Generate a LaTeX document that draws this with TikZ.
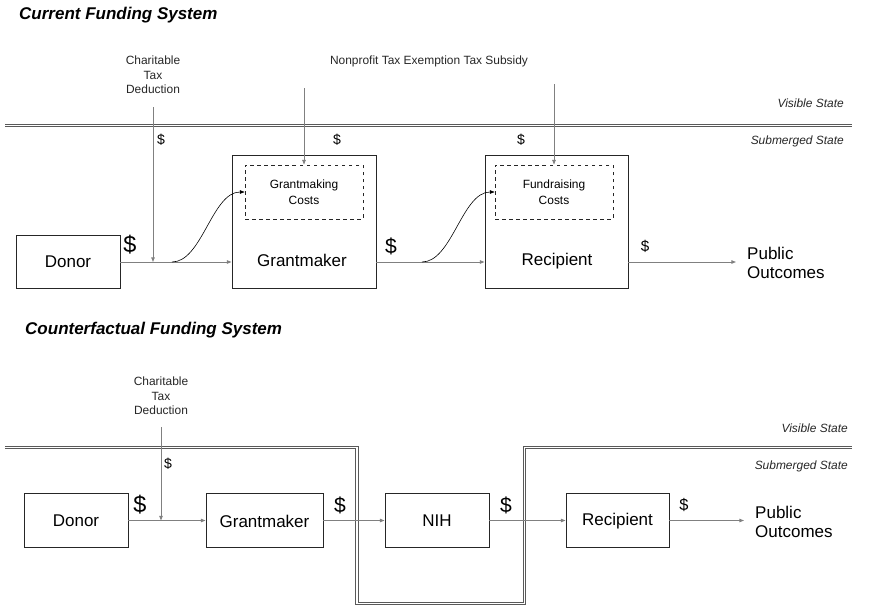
\documentclass[tikz,border=0pt]{standalone}
\usepackage{fontspec}
\setmainfont{Liberation Sans}
\usetikzlibrary{arrows.meta}

\begin{document}
\begin{tikzpicture}[x=0.03cm,y=-0.03cm,
    actorbox/.style ={draw=black!85, line width=0.8pt, inner sep=0pt},
    costbox/.style ={draw=black!85, dashed, line width=0.7pt, inner sep=0pt, minimum width=3.54cm, minimum height=1.62cm,
      align=center, font=\fontsize{10.2}{13.7}\selectfont},
    boxtext/.style ={font=\fontsize{14.5}{16}\selectfont},
    smalltext/.style ={font=\fontsize{10.2}{12.5}\selectfont, align=center, text=black!85},
    statetext/.style ={font=\fontsize{10.2}{12}\selectfont\itshape, anchor=east, inner sep=0pt, text=black!85},
    titletext/.style ={font=\fontsize{14.5}{16}\selectfont\bfseries\itshape, anchor=west, inner sep=0pt},
    outcometext/.style ={font=\fontsize{14.5}{16.2}\selectfont, align=left, anchor=west, inner sep=0pt},
    flow/.style ={draw=black!50, line width=0.8pt, -{Triangle[length=4pt,width=3pt]}},
    spill/.style ={draw=black, line width=0.5pt, -{Triangle[length=4pt,width=3pt]}},
    stateline/.style ={draw=black!65, double=white, double distance=1.6pt, line width=0.7pt}]
   \useasboundingbox (0,0) rectangle (869,613);
   % current funding system
   \node[titletext] (t1) at (19,15) {Current Funding System};
   \node[statetext] (vis1) at (844,103) {Visible State};
   \node[statetext] (sub1) at (844,141) {Submerged State};
   \draw[stateline] (5,125.5) -- (852,125.5);
   \node[smalltext] (ctd1) at (153,75) {Charitable\\Tax\\Deduction};
   \node[smalltext] (npx) at (429,61) {Nonprofit Tax Exemption Tax Subsidy};
   \node[actorbox, minimum width=3.12cm, minimum height=1.59cm] (D1) at (68,261.5) {};
   \node[boxtext] (D1t) at (68,262) {Donor};
   \node[actorbox, minimum width=4.32cm, minimum height=3.99cm] (G1) at (304,221.5) {};
   \node[boxtext] (G1t) at (302,260) {Grantmaker};
   \node[costbox] (GC) at (304,192) {Grantmaking\\Costs};
   \node[actorbox, minimum width=4.29cm, minimum height=3.99cm] (R1) at (556.5,221.5) {};
   \node[boxtext] (R1t) at (557,261) {Recipient};
   \node[costbox] (FC) at (554,192) {Fundraising\\Costs};
   \node[outcometext] (P1) at (747,262.5) {Public\\Outcomes};
   \coordinate (j1) at (153,262);
   \coordinate (s1) at (172,262);
   \coordinate (s2) at (422,262);
   \coordinate (P1in) at (736,262);
   \draw[flow] (153,107) to (j1);
   \draw[flow] (304,88) to (GC.north);
   \draw[flow] (554,84) to (FC.north);
   \draw[flow] (D1.east|-j1) to (G1.west|-j1);
   \draw[flow] (G1.east|-j1) to (R1.west|-j1);
   \draw[flow] (R1.east|-j1) to (P1in);
   \draw[spill] (s1) .. controls (202,262) and (212,192) .. (GC.west);
   \draw[spill] (s2) .. controls (452,262) and (462,192) .. (FC.west);
   \node[font=\fontsize{12}{14}\selectfont] (d1) at (161,140) {\$};
   \node[font=\fontsize{12}{14}\selectfont] (d2) at (337,140) {\$};
   \node[font=\fontsize{12}{14}\selectfont] (d3) at (521,140) {\$};
   \node[font=\fontsize{20}{22}\selectfont] (d4) at (130,245) {\$};
   \node[font=\fontsize{18}{20}\selectfont] (d5) at (391,246) {\$};
   \node[font=\fontsize{13}{15}\selectfont] (d6) at (645,246) {\$};
   % counterfactual funding system
   \node[titletext] (t2) at (25,330) {Counterfactual Funding System};
   \node[statetext] (vis2) at (848,428) {Visible State};
   \node[statetext] (sub2) at (848,466) {Submerged State};
   \draw[stateline] (5,447.5) -- (357,447.5) -- (357,603.5) -- (524.5,603.5) -- (524.5,447.5) -- (852,447.5);
   \node[smalltext] (ctd2) at (161,396) {Charitable\\Tax\\Deduction};
   \node[actorbox, minimum width=3.12cm, minimum height=1.62cm] (D2) at (76,520) {};
   \node[boxtext] (D2t) at (76,521) {Donor};
   \node[actorbox, minimum width=3.51cm, minimum height=1.62cm] (G2) at (264.5,520) {};
   \node[boxtext] (G2t) at (264.5,521) {Grantmaker};
   \node[actorbox, minimum width=3.12cm, minimum height=1.62cm] (N2) at (437,520) {};
   \node[boxtext] (N2t) at (437,521) {NIH};
   \node[actorbox, minimum width=3.09cm, minimum height=1.62cm] (R2) at (617.5,520) {};
   \node[boxtext] (R2t) at (617.5,521) {Recipient};
   \node[outcometext] (P2) at (755,521.5) {Public\\Outcomes};
   \coordinate (j2) at (161,520.5);
   \coordinate (P2in) at (744,520.5);
   \draw[flow] (161,427) to (j2);
   \draw[flow] (D2.east|-j2) to (G2.west|-j2);
   \draw[flow] (G2.east|-j2) to (N2.west|-j2);
   \draw[flow] (N2.east|-j2) to (R2.west|-j2);
   \draw[flow] (R2.east|-j2) to (P2in);
   \node[font=\fontsize{12}{14}\selectfont] (d7) at (168,464) {\$};
   \node[font=\fontsize{20}{22}\selectfont] (d8) at (140,505) {\$};
   \node[font=\fontsize{18}{20}\selectfont] (d9) at (340,505) {\$};
   \node[font=\fontsize{18}{20}\selectfont] (d10) at (506,505) {\$};
   \node[font=\fontsize{14}{16}\selectfont] (d11) at (684,505) {\$};
 \end{tikzpicture}
\end{document}
